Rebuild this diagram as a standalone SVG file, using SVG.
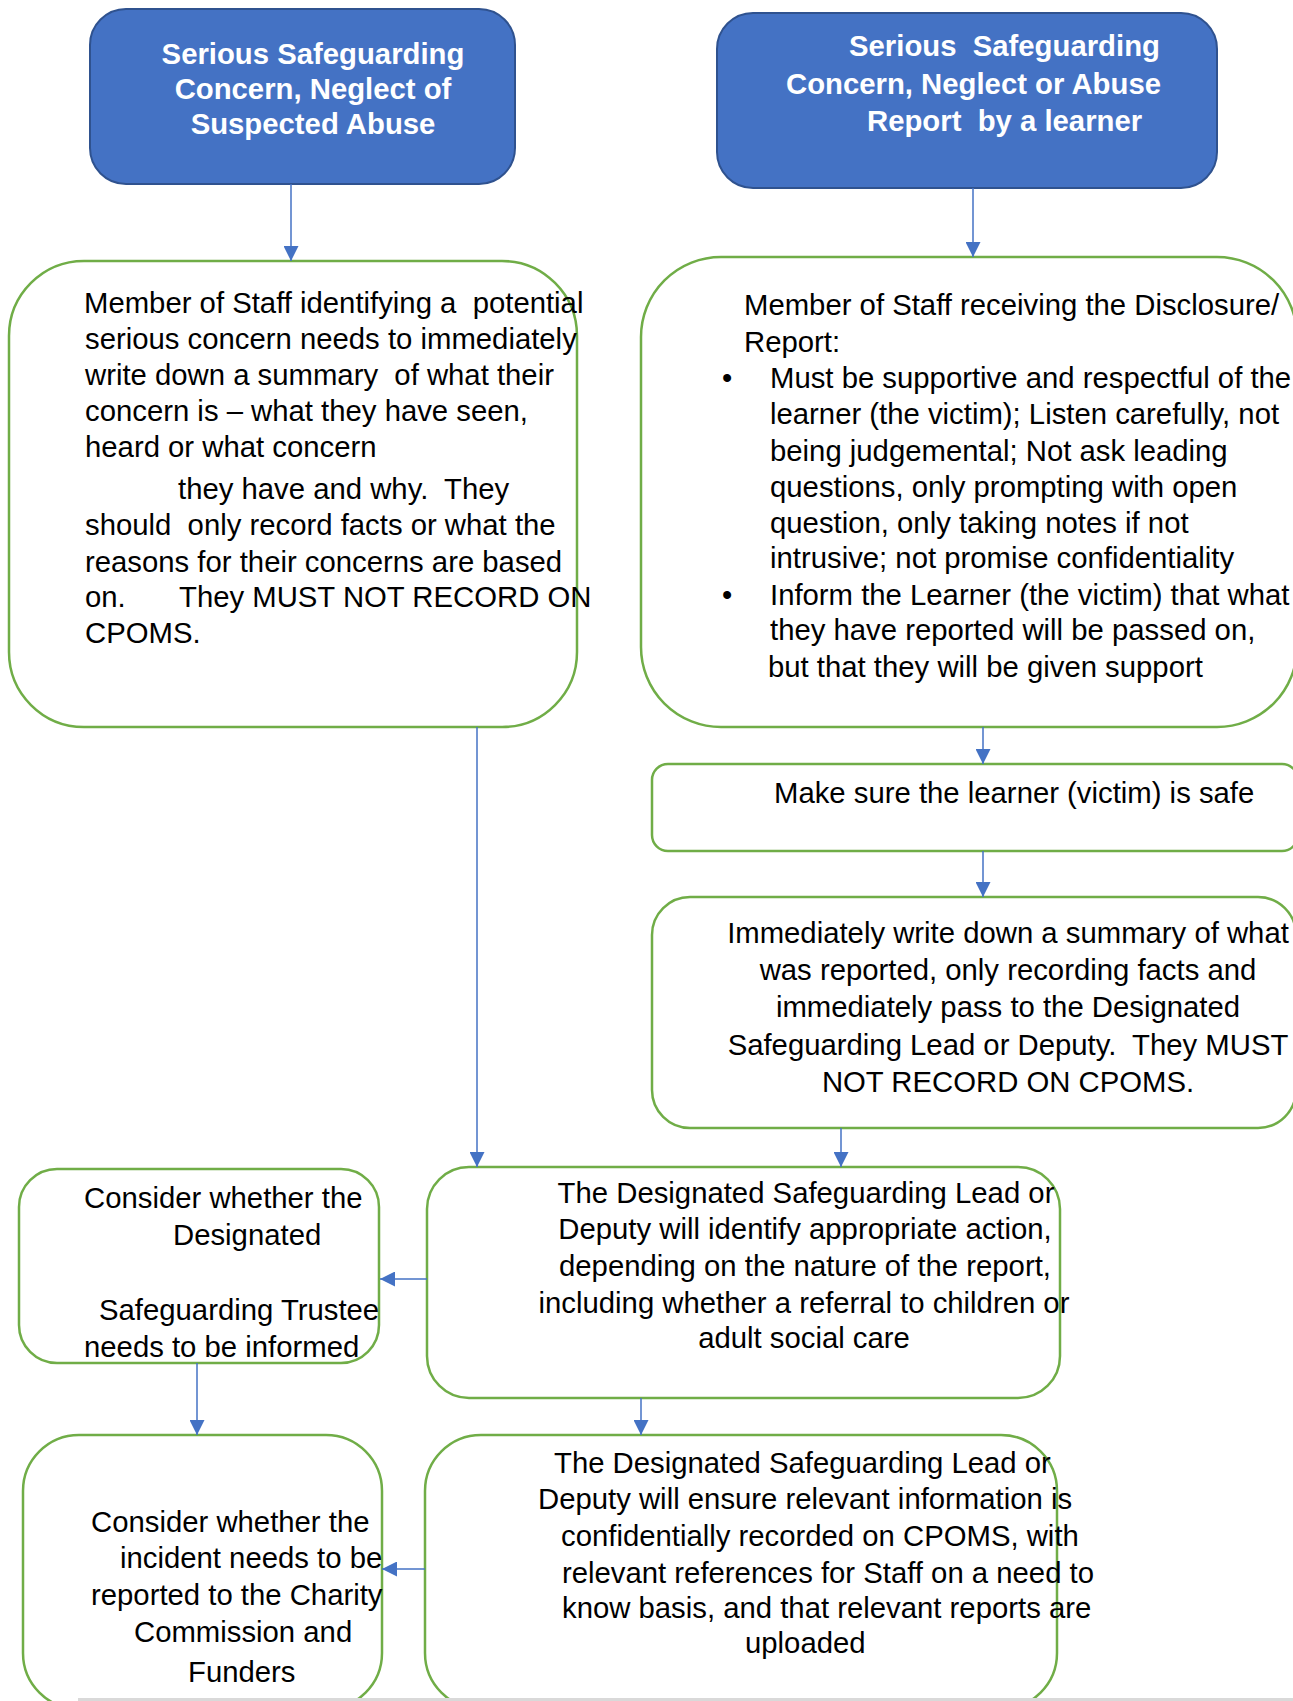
<svg xmlns="http://www.w3.org/2000/svg" width="1293" height="1701" viewBox="0 0 1293 1701">
<defs>
<style>
.blue{fill:#4472C4;stroke:#2F528F;stroke-width:2}
.green{fill:#FFFFFF;stroke:#70AD47;stroke-width:2.5}
.bt{font-family:"Liberation Sans",Arial,sans-serif;font-size:29.3px;font-weight:bold;fill:#FFFFFF;white-space:pre}
.t{font-family:"Liberation Sans",Arial,sans-serif;font-size:29.3px;fill:#000000;white-space:pre}
.mid{text-anchor:middle}
.conn line{stroke:#4472C4;stroke-width:1.5;fill:none;marker-end:url(#arr)}
</style>
<marker id="arr" markerUnits="userSpaceOnUse" markerWidth="15" markerHeight="15" refX="15" refY="7.5" orient="auto">
<path d="M0,0 L15,7.5 L0,15 Z" fill="#4472C4"/>
</marker>
</defs>
<rect width="1293" height="1701" fill="#FFFFFF"/>

<g id="nodeA">
<rect class="blue" x="90" y="9" width="425" height="175" rx="36"/>
<text class="bt mid" x="313" y="64">Serious Safeguarding</text>
<text class="bt mid" x="313" y="99">Concern, Neglect of</text>
<text class="bt mid" x="313" y="134">Suspected Abuse</text>
</g>

<g id="nodeB">
<rect class="blue" x="717" y="13" width="500" height="175" rx="36"/>
<text class="bt" x="849" y="56">Serious&#160; Safeguarding</text>
<text class="bt" x="786" y="94">Concern, Neglect or Abuse</text>
<text class="bt" x="867" y="131">Report&#160; by a learner</text>
</g>

<g id="nodeC">
<rect class="green" x="9" y="261" width="568" height="466" rx="75"/>
<text class="t" x="84" y="313">Member of Staff identifying a&#160; potential</text>
<text class="t" x="85" y="349">serious concern needs to immediately</text>
<text class="t" x="85" y="385">write down a summary&#160; of what their</text>
<text class="t" x="85" y="421">concern is – what they have seen,</text>
<text class="t" x="85" y="457">heard or what concern</text>
<text class="t" x="178" y="499">they have and why.&#160; They</text>
<text class="t" x="85" y="535">should&#160; only record facts or what the</text>
<text class="t" x="85" y="572">reasons for their concerns are based</text>
<text class="t" x="85" y="607">on.</text>
<text class="t" x="179" y="607">They MUST NOT RECORD ON</text>
<text class="t" x="85" y="643">CPOMS.</text>
</g>

<g id="nodeD">
<rect class="green" x="641" y="257" width="656" height="470" rx="80"/>
<text class="t" x="744" y="315">Member of Staff receiving the Disclosure/</text>
<text class="t" x="744" y="352">Report:</text>
<text class="t" x="722" y="388">•</text>
<text class="t" x="770" y="388">Must be supportive and respectful of the</text>
<text class="t" x="770" y="424">learner (the victim); Listen carefully, not</text>
<text class="t" x="770" y="461">being judgemental; Not ask leading</text>
<text class="t" x="770" y="497">questions, only prompting with open</text>
<text class="t" x="770" y="533">question, only taking notes if not</text>
<text class="t" x="770" y="568">intrusive; not promise confidentiality</text>
<text class="t" x="722" y="605">•</text>
<text class="t" x="770" y="605">Inform the Learner (the victim) that what</text>
<text class="t" x="770" y="640">they have reported will be passed on,</text>
<text class="t" x="768" y="677">but that they will be given support</text>
</g>

<g id="nodeE">
<rect class="green" x="652" y="764" width="646" height="87" rx="16"/>
<text class="t" x="774" y="803">Make sure the learner (victim) is safe</text>
</g>

<g id="nodeF">
<rect class="green" x="652" y="897" width="644" height="231" rx="38"/>
<text class="t mid" x="1008" y="943">Immediately write down a summary of what</text>
<text class="t mid" x="1008" y="980">was reported, only recording facts and</text>
<text class="t mid" x="1008" y="1017">immediately pass to the Designated</text>
<text class="t mid" x="1008" y="1055">Safeguarding Lead or Deputy.&#160; They MUST</text>
<text class="t mid" x="1008" y="1092">NOT RECORD ON CPOMS.</text>
</g>

<g id="nodeG">
<rect class="green" x="427" y="1167" width="633" height="231" rx="42"/>
<text class="t mid" x="806" y="1203">The Designated Safeguarding Lead or</text>
<text class="t mid" x="805" y="1239">Deputy will identify appropriate action,</text>
<text class="t mid" x="805" y="1276">depending on the nature of the report,</text>
<text class="t mid" x="804" y="1313">including whether a referral to children or</text>
<text class="t mid" x="804" y="1348">adult social care</text>
</g>

<g id="nodeH">
<rect class="green" x="19" y="1169" width="360" height="194" rx="38"/>
<text class="t" x="84" y="1208">Consider whether the</text>
<text class="t" x="173" y="1245">Designated</text>
<text class="t" x="99" y="1320">Safeguarding Trustee</text>
<text class="t" x="84" y="1357">needs to be informed</text>
</g>

<g id="nodeI">
<rect class="green" x="23" y="1435" width="359" height="274" rx="56"/>
<text class="t" x="91" y="1532">Consider whether the</text>
<text class="t" x="120" y="1568">incident needs to be</text>
<text class="t" x="91" y="1605">reported to the Charity</text>
<text class="t" x="134" y="1642">Commission and</text>
<text class="t" x="188" y="1682">Funders</text>
</g>

<g id="nodeJ">
<rect class="green" x="425" y="1435" width="632" height="274" rx="56"/>
<text class="t" x="554" y="1473">The Designated Safeguarding Lead or</text>
<text class="t" x="538" y="1509">Deputy will ensure relevant information is</text>
<text class="t" x="561" y="1546">confidentially recorded on CPOMS, with</text>
<text class="t" x="562" y="1583">relevant references for Staff on a need to</text>
<text class="t" x="562" y="1618">know basis, and that relevant reports are</text>
<text class="t" x="745" y="1653">uploaded</text>
</g>

<g id="connectors" class="conn">
<line x1="291" y1="184" x2="291" y2="261"/>
<line x1="973" y1="188" x2="973" y2="257"/>
<line x1="983" y1="727" x2="983" y2="764"/>
<line x1="983" y1="851" x2="983" y2="897"/>
<line x1="477" y1="727" x2="477" y2="1167"/>
<line x1="841" y1="1128" x2="841" y2="1167"/>
<line x1="427" y1="1279" x2="380" y2="1279"/>
<line x1="197" y1="1363" x2="197" y2="1435"/>
<line x1="641" y1="1398" x2="641" y2="1435"/>
<line x1="425" y1="1569" x2="382" y2="1569"/>
</g>

<rect x="78" y="1698" width="1215" height="3" fill="#D9D9D9"/>
</svg>
